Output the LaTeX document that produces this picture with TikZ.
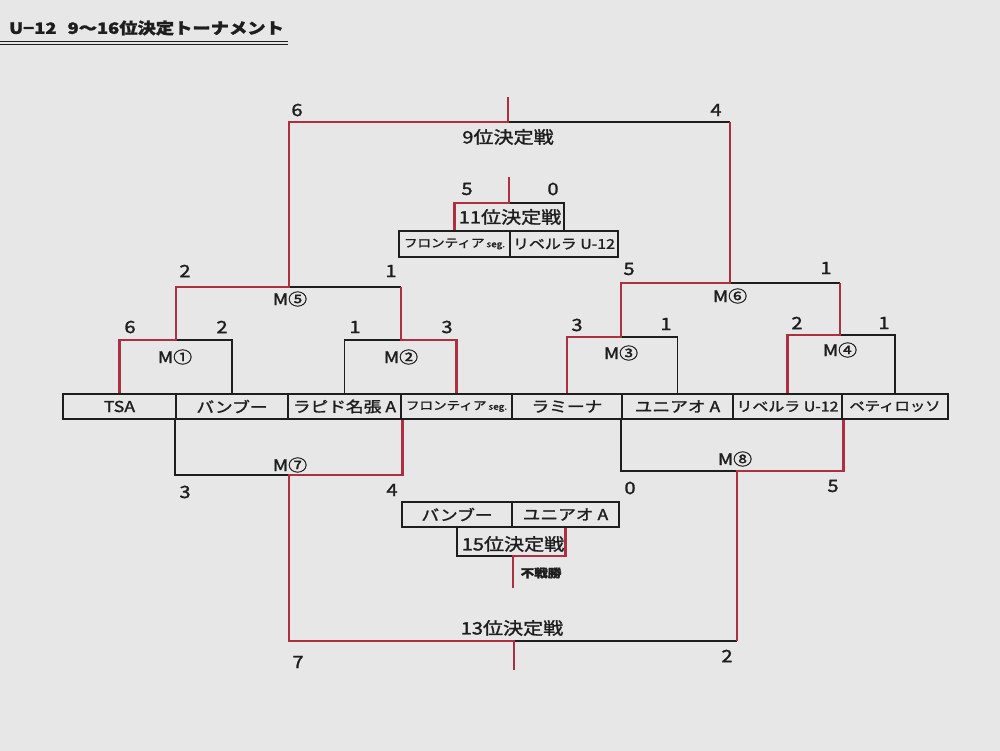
\documentclass[tikz,border=0pt]{standalone}
\usepackage{fontspec}
\setmainfont{Noto Sans CJK JP}[FakeStretch=1.18,FakeBold=1.6]
\definecolor{myred}{RGB}{172,48,66}
\definecolor{bg}{RGB}{231,231,231}
\definecolor{ink}{RGB}{30,30,30}
\begin{document}
\begin{tikzpicture}[x=1pt,y=-1pt,
  blk/.style={line width=1.5pt, draw=ink},
  rd/.style={line width=2.9pt, draw=myred, line join=miter},
  team/.style={draw=ink, line width=2.2pt, minimum height=25pt, inner sep=0pt, text=ink, font=\fontsize{15}{15}\selectfont},
  score/.style={inner sep=0pt, text=ink, font=\fontsize{17}{17}\selectfont},
  mlab/.style={inner sep=0pt, text=ink, font=\fontsize{16}{16}\selectfont},
  final/.style={inner sep=0pt, text=ink, font=\fontsize{17}{17}\selectfont}]
\fill[bg] (0,0) rectangle (1000,751);
\useasboundingbox (0,0) rectangle (1000,751);

% title
\node[anchor=west, inner sep=0pt, text=ink, font=\fontsize{15.5}{15.5}\selectfont\bfseries] (title) at (9,28) {U−12\hspace{11pt}9〜16位決定トーナメント};
\coordinate (ul1) at (0,41.5);
\coordinate (ul2) at (288,41.5);
\coordinate (ul3) at (0,44.5);
\coordinate (ul4) at (288,44.5);
\draw[line width=1.3pt, draw=ink] (ul1) -- (ul2);
\draw[line width=1.3pt, draw=ink] (ul3) -- (ul4);

% team row
\node[team, minimum width=113pt] (t1) at (119.5,406.5) {TSA};
\node[team, minimum width=112pt] (t2) at (232,406.5) {バンブー};
\node[team, minimum width=113pt] (t3) at (344.5,406.5) {ラピド名張 A};
\node[team, minimum width=111pt] (t4) at (456.5,406.5) {\fontsize{11.5}{11.5}\selectfont フロンティア\,{\fontsize{8.5}{8.5}\selectfont seg.}};
\node[team, minimum width=110pt] (t5) at (567,406.5) {ラミーナ};
\node[team, minimum width=111pt] (t6) at (677.5,406.5) {ユニアオ A};
\node[team, minimum width=109pt] (t7) at (787.5,406.5) {\fontsize{13.5}{13.5}\selectfont リベルラ U-12};
\node[team, minimum width=106pt] (t8) at (895,406.5) {\fontsize{13}{13}\selectfont ペティロッソ};

% 11th place teams
\node[team, minimum width=111pt, minimum height=26pt] (e1) at (454.5,244) {\fontsize{11.5}{11.5}\selectfont フロンティア\,{\fontsize{8.5}{8.5}\selectfont seg.}};
\node[team, minimum width=108pt, minimum height=26pt] (e2) at (564,244) {\fontsize{13.5}{13.5}\selectfont リベルラ U-12};

% 15th place teams
\node[team, minimum width=110pt] (f1) at (457,514.5) {バンブー};
\node[team, minimum width=107pt] (f2) at (565.5,514.5) {ユニアオ A};

% bracket coordinates
\coordinate (m1) at (176,340);
\coordinate (m2) at (401,340);
\coordinate (m3) at (621,337);
\coordinate (m4) at (840,335);
\coordinate (m5) at (289,287);
\coordinate (m6) at (730,283);
\coordinate (w9) at (508,122);
\coordinate (w9top) at (508,97);
\coordinate (m7) at (289,475);
\coordinate (m8) at (737,471);
\coordinate (w13) at (514,641);
\coordinate (w13bot) at (514,670);
\coordinate (w11) at (509,203);
\coordinate (w11top) at (509,177);
\coordinate (w15) at (513,556);
\coordinate (w15bot) at (513,588);

% black (losing) lines
\draw[blk] (m1) -| (t2.north);
\draw[blk] (t3.north) |- (m2);
\draw[blk] (m3) -| (t6.north);
\draw[blk] (m4) -| (t8.north);
\draw[blk] (m5) -- (m2|-m5);
\draw[blk] (m6) -- (m4|-m6);
\draw[blk] (w9) -- (m6|-w9);
\draw[blk] (t2.south west) |- (m7);
\draw[blk] (t6.south west) |- (m8);
\draw[blk] (w13) -- (m8|-w13);
\draw[blk] (w11) -| (e2.north);
\draw[blk] (f1.south) |- (w15);

% red (winning) lines
\draw[rd] (t1.north) |- (m1) -- (m1|-m5) -- (m5) -- (m5|-w9) -- (w9) -- (w9top);
\draw[rd] (t4.north) |- (m2) -- (m2|-m5);
\draw[rd] (t5.north) |- (m3) -- (m3|-m6) -- (m6) -- (m6|-w9);
\draw[rd] (t7.north) |- (m4) -- (m4|-m6);
\draw[rd] (t3.south east) |- (m7) -- (m7|-w13) -- (w13) -- (w13bot);
\draw[rd] (t7.south east) |- (m8) -- (m8|-w13);
\draw[rd] (e1.north) |- (w11) -- (w11top);
\draw[rd] (f2.south) |- (w15) -- (w15bot);

% match labels
\node[final] (l9) at (508,137) {9位決定戦};
\node[final] (l11) at (510,217) {11位決定戦};
\node[final] (l13) at (512,628) {13位決定戦};
\node[final] (l15) at (513,544) {15位決定戦};
\node[inner sep=0pt, text=ink, font=\fontsize{11.5}{11.5}\selectfont\bfseries] (fus) at (541,573) {不戦勝};
\node[mlab] (lm1) at (175,357) {M①};
\node[mlab] (lm2) at (401,357) {M②};
\node[mlab] (lm3) at (621,353) {M③};
\node[mlab] (lm4) at (840,350) {M④};
\node[mlab] (lm5) at (290,299) {M⑤};
\node[mlab] (lm6) at (730,296) {M⑥};
\node[mlab] (lm7) at (290,465) {M⑦};
\node[mlab] (lm8) at (735,459) {M⑧};

% scores
\node[score] (s9a) at (297,110) {6};
\node[score] (s9b) at (716,110) {4};
\node[score] (s11a) at (467,189) {5};
\node[score] (s11b) at (553,189) {0};
\node[score] (s5a) at (185,271) {2};
\node[score] (s5b) at (391,271) {1};
\node[score] (s6a) at (629,269) {5};
\node[score] (s6b) at (826,268) {1};
\node[score] (s1a) at (130,327) {6};
\node[score] (s1b) at (222,327) {2};
\node[score] (s2a) at (355,327) {1};
\node[score] (s2b) at (447,327) {3};
\node[score] (s3a) at (577,325) {3};
\node[score] (s3b) at (666,324) {1};
\node[score] (s4a) at (797,323) {2};
\node[score] (s4b) at (884,323) {1};
\node[score] (s7a) at (185,492) {3};
\node[score] (s7b) at (392,490) {4};
\node[score] (s8a) at (630,488) {0};
\node[score] (s8b) at (833,486) {5};
\node[score] (s13a) at (298,662) {7};
\node[score] (s13b) at (727,656) {2};
\end{tikzpicture}
\end{document}
